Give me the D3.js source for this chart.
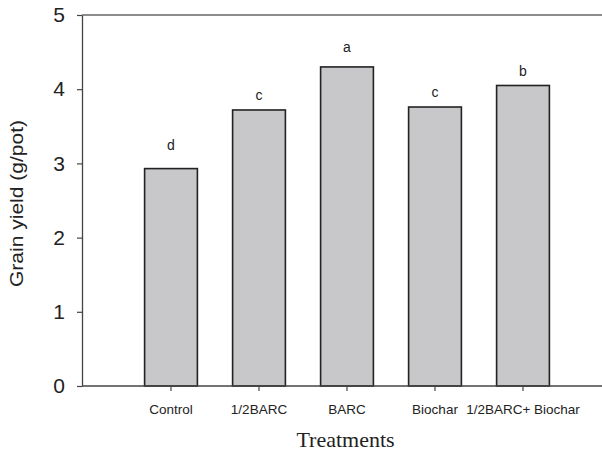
<!DOCTYPE html>
<html>
<head>
<meta charset="utf-8">
<script src="https://cdn.jsdelivr.net/npm/d3@7"></script>
<style>
  body { margin: 0; background: #fff; }
  svg { display: block; }
</style>
</head>
<body>
<div id="chart"></div>
<script>
// Data
var treatments = ["Control", "1/2BARC", "BARC", "Biochar", "1/2BARC+ Biochar"];
var grainYield = [2.93, 3.72, 4.30, 3.76, 4.05];
var letters = ["d", "c", "a", "c", "b"];
var letterLevel = [3.18, 3.85, 4.50, 3.90, 4.18]; // where each letter sits (g/pot)
var yTicks = [0, 1, 2, 3, 4, 5];

function drawChart() {
  var width = 602, height = 455;
  var plotLeft = 82, plotTop = 15, plotBottom = 386;

  var svg = d3.select("#chart").append("svg")
      .attr("width", width)
      .attr("height", height);

  var y = d3.scaleLinear()
      .domain([0, 5])
      .range([plotBottom, plotTop]);

  var x = d3.scaleBand()
      .domain(treatments)
      .range([127, 567])
      .paddingInner(0.4)
      .paddingOuter(0.2);

  // bars
  svg.append("g")
    .selectAll("rect")
    .data(grainYield)
    .enter()
    .append("rect")
      .attr("x", function(d, i) { return x(treatments[i]); })
      .attr("y", function(d) { return y(d); })
      .attr("width", x.bandwidth())
      .attr("height", function(d) { return y(0) - y(d); })
      .attr("fill", "#c8c8ca")
      .attr("stroke", "#222")
      .attr("stroke-width", 1.6);

  // significance letters
  svg.append("g")
    .selectAll("text")
    .data(letters)
    .enter()
    .append("text")
      .attr("x", function(d, i) { return x(treatments[i]) + x.bandwidth() / 2; })
      .attr("y", function(d, i) { return y(letterLevel[i]); })
      .attr("text-anchor", "middle")
      .style("font-family", "Liberation Sans, Arial, sans-serif")
      .style("font-size", "14px")
      .attr("fill", "#222")
      .text(function(d) { return d; });

  // top frame line
  svg.append("line")
      .attr("x1", plotLeft).attr("x2", width)
      .attr("y1", plotTop).attr("y2", plotTop)
      .attr("stroke", "#666")
      .attr("stroke-width", 1.3);

  // y axis
  var yAxis = svg.append("g")
      .attr("transform", "translate(" + plotLeft + ",0)")
      .call(d3.axisLeft(y).tickValues(yTicks).tickFormat(d3.format("d"))
        .tickSize(5).tickSizeOuter(0).tickPadding(12));
  yAxis.select(".domain").attr("stroke", "#444").attr("stroke-width", 1.3);
  yAxis.selectAll(".tick line").attr("stroke", "#444").attr("stroke-width", 1.2);
  yAxis.selectAll(".tick text")
      .style("font-family", "Liberation Sans, Arial, sans-serif")
      .style("font-size", "21px")
      .attr("fill", "#222");

  // x axis
  var xAxis = svg.append("g")
      .attr("transform", "translate(0," + plotBottom + ")")
      .call(d3.axisBottom(x).tickSize(5).tickSizeOuter(0).tickPadding(13));
  xAxis.select(".domain").remove();
  xAxis.selectAll(".tick line").attr("stroke", "#444").attr("stroke-width", 1.2);
  xAxis.selectAll(".tick text")
      .style("font-family", "Liberation Sans, Arial, sans-serif")
      .style("font-size", "13.5px")
      .attr("fill", "#222");

  svg.append("line")
      .attr("x1", plotLeft).attr("x2", width)
      .attr("y1", plotBottom).attr("y2", plotBottom)
      .attr("stroke", "#444")
      .attr("stroke-width", 1.3);

  // axis titles
  svg.append("text")
      .attr("transform", "translate(23," + ((plotTop + plotBottom) / 2 + 3) + ") rotate(-90)")
      .attr("text-anchor", "middle")
      .attr("textLength", 167)
      .attr("lengthAdjust", "spacingAndGlyphs")
      .style("font-family", "Liberation Sans, Arial, sans-serif")
      .style("font-size", "18px")
      .attr("fill", "#222")
      .text("Grain yield (g/pot)");

  svg.append("text")
      .attr("x", 345.5)
      .attr("y", 447)
      .attr("text-anchor", "middle")
      .style("font-family", "Liberation Serif, Times New Roman, serif")
      .style("font-size", "22px")
      .attr("fill", "#222")
      .text("Treatments");
}

drawChart();
</script>
</body>
</html>
